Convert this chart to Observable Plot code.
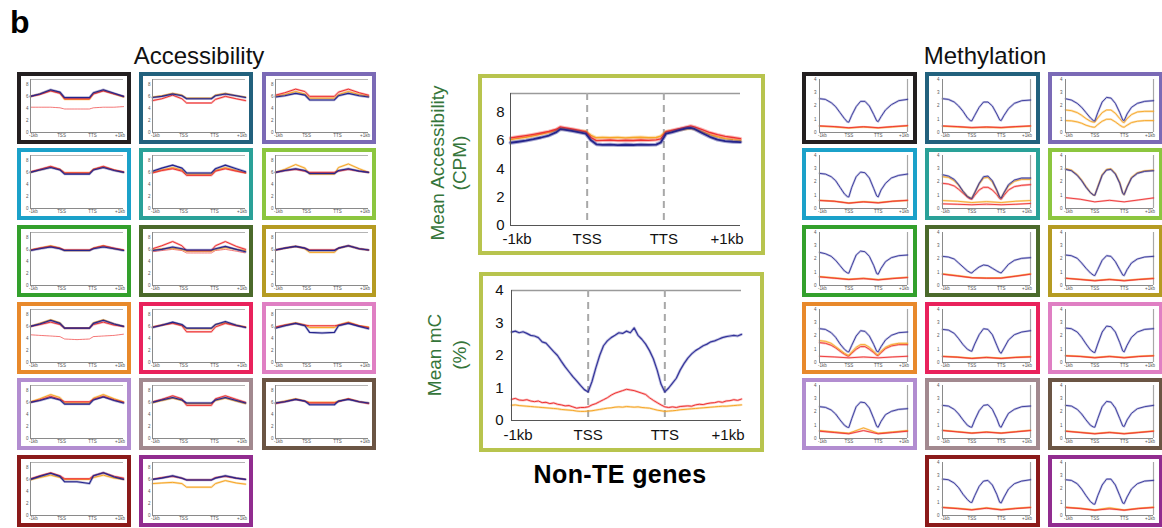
<!DOCTYPE html>
<html><head><meta charset="utf-8">
<script src="https://cdn.jsdelivr.net/npm/d3@7"></script>
<script src="https://cdn.jsdelivr.net/npm/@observablehq/plot@0.6"></script>
<style>
body{margin:0;background:#fff;font-family:"Liberation Sans",Arial,sans-serif;}
#root{position:relative;width:1162px;height:528px;overflow:hidden;background:#fff;}
</style></head>
<body><div id="root"></div>
<script>
// ---------------- DATA ----------------
const xTickLabels = ["-1kb","TSS","TTS","+1kb"];
const panelColors = ["#231f20","#22617d","#7b6ab6","#1ba1c9","#2aa198","#8cc63f","#33a02c","#4b6a2b","#b59b22","#e8892b","#e9225c","#df7fc3","#b28dd0","#a2898f","#6b5544","#8b1a1a","#912c8f"];

// middle: accessibility, non-TE genes
const accBigX = [0,0.1,0.2,0.3,0.4,0.5,0.6,0.65,0.7,0.8,0.9,0.98,1.05,1.12,1.2,1.3,1.4,1.5,1.6,1.7,1.8,1.9,1.96,2.03,2.1,2.2,2.3,2.35,2.4,2.5,2.6,2.7,2.8,2.9,3.0];
const accBigRed = [6.17,6.25,6.33,6.42,6.52,6.63,6.78,6.95,6.9,6.8,6.7,6.6,6.2,5.98,6.0,6.02,5.98,6.01,5.99,6.02,6.0,6.03,6.1,6.6,6.7,6.82,6.95,7.02,6.95,6.75,6.55,6.4,6.28,6.2,6.12];
const accBigOrange = [6.05,6.14,6.22,6.32,6.44,6.56,6.72,6.83,6.82,6.74,6.66,6.64,6.35,6.18,6.2,6.19,6.21,6.17,6.2,6.22,6.18,6.2,6.3,6.62,6.66,6.74,6.82,6.85,6.8,6.6,6.4,6.25,6.12,6.05,6.0];
const accBigBlue = [5.83,5.9,5.98,6.08,6.2,6.34,6.58,6.79,6.76,6.66,6.56,6.48,6.0,5.72,5.68,5.7,5.66,5.69,5.67,5.7,5.68,5.7,5.85,6.48,6.56,6.72,6.86,6.88,6.8,6.52,6.25,6.05,5.95,5.9,5.88];

// middle: methylation, non-TE genes
const methBigX = [0,0.05,0.1,0.15,0.2,0.25,0.3,0.35,0.4,0.45,0.5,0.55,0.6,0.65,0.7,0.75,0.8,0.85,0.9,0.95,1.0,1.05,1.1,1.15,1.2,1.25,1.3,1.35,1.4,1.45,1.5,1.55,1.6,1.65,1.7,1.75,1.8,1.85,1.9,1.95,2.0,2.05,2.1,2.15,2.2,2.25,2.3,2.35,2.4,2.45,2.5,2.55,2.6,2.65,2.7,2.75,2.8,2.85,2.9,2.95,3.0];
const methBigBlue = [2.72,2.75,2.70,2.73,2.68,2.62,2.60,2.55,2.42,2.38,2.25,2.12,2.00,1.82,1.65,1.50,1.35,1.22,1.08,0.95,0.88,1.20,1.62,2.00,2.30,2.45,2.55,2.62,2.70,2.68,2.75,2.70,2.85,2.62,2.50,2.35,2.15,1.90,1.55,1.12,0.88,1.00,1.15,1.30,1.55,1.75,1.92,2.05,2.15,2.22,2.30,2.35,2.42,2.45,2.50,2.55,2.58,2.60,2.62,2.60,2.65];
const methBigRed = [0.65,0.68,0.63,0.62,0.64,0.60,0.58,0.60,0.55,0.56,0.52,0.54,0.50,0.48,0.45,0.46,0.42,0.38,0.40,0.40,0.42,0.48,0.52,0.58,0.64,0.70,0.78,0.84,0.88,0.92,0.96,0.94,0.92,0.88,0.84,0.80,0.70,0.62,0.55,0.48,0.42,0.40,0.42,0.40,0.43,0.44,0.45,0.44,0.48,0.50,0.49,0.52,0.54,0.55,0.58,0.56,0.60,0.61,0.64,0.62,0.66];
const methBigOrange = [0.47,0.48,0.46,0.45,0.44,0.43,0.42,0.41,0.40,0.39,0.38,0.37,0.36,0.34,0.33,0.32,0.31,0.29,0.28,0.28,0.29,0.30,0.32,0.34,0.36,0.38,0.39,0.41,0.42,0.41,0.43,0.42,0.41,0.42,0.40,0.39,0.38,0.35,0.32,0.30,0.28,0.29,0.30,0.31,0.33,0.34,0.35,0.36,0.37,0.38,0.39,0.40,0.41,0.42,0.43,0.44,0.44,0.45,0.46,0.47,0.48];

// small accessibility panels
const accX = [0,0.3,0.65,0.95,1.1,1.5,1.9,2.03,2.35,2.7,3];
const accBlue = [
 [6.0,6.4,7.1,6.7,5.8,5.8,5.8,6.6,7.1,6.5,6.0],
 [5.8,6.0,6.4,6.1,5.6,5.6,5.6,6.1,6.4,6.1,5.8],
 [5.9,6.1,6.5,6.2,5.4,5.4,5.4,6.1,6.5,6.1,5.9],
 [6.0,6.4,6.8,6.4,5.7,5.7,5.7,6.4,6.8,6.3,6.0],
 [6.2,6.7,7.2,6.7,5.9,5.9,5.9,6.6,7.2,6.6,6.1],
 [6.0,6.3,6.6,6.3,5.8,5.8,5.8,6.3,6.6,6.2,6.0],
 [5.8,6.1,6.4,6.1,5.8,5.8,5.8,6.1,6.4,6.1,5.8],
 [5.8,6.0,6.4,6.1,5.9,5.9,5.9,6.1,6.5,6.0,5.6],
 [5.9,6.2,6.5,6.2,5.8,5.8,5.8,6.2,6.6,6.1,5.9],
 [6.0,6.4,7.0,6.5,5.7,5.7,5.7,6.5,7.0,6.4,6.0],
 [5.8,6.2,6.7,6.3,5.7,5.7,5.7,6.3,6.8,6.2,5.8],
 [5.7,6.1,6.5,6.1,5.0,4.9,5.0,6.1,6.5,6.0,5.6],
 [6.0,6.3,6.8,6.4,5.7,5.7,5.7,6.4,6.9,6.3,5.9],
 [6.0,6.4,6.8,6.4,5.9,5.9,5.9,6.4,6.8,6.3,5.9],
 [5.9,6.1,6.5,6.2,5.6,5.6,5.6,6.2,6.5,6.1,5.9],
 [6.0,6.5,7.0,6.5,5.6,5.6,5.3,6.6,7.1,6.4,6.0],
 [6.0,6.2,6.6,6.2,5.9,5.9,5.9,6.2,6.6,6.2,6.0]];
const accRed = [
 [6.0,6.3,6.9,6.5,5.6,5.6,5.6,6.4,6.9,6.4,6.0],
 [5.3,5.6,6.2,5.6,4.9,4.9,4.9,5.5,6.0,5.6,5.3],
 [6.2,6.6,7.2,6.8,6.0,6.0,6.0,6.7,7.2,6.6,6.2],
 [6.1,6.5,7.0,6.5,5.9,5.9,5.9,6.5,7.0,6.4,6.1],
 [5.9,6.3,6.6,6.2,5.5,5.5,5.5,6.2,6.6,6.2,5.9],
 [6.0,6.3,6.5,6.2,6.0,6.0,6.0,6.2,6.5,6.2,6.0],
 [5.9,6.2,6.5,6.2,5.9,5.9,5.9,6.2,6.6,6.2,5.9],
 [6.1,6.6,7.3,6.6,5.8,5.8,5.8,6.6,7.3,6.5,6.0],
 [5.9,6.2,6.5,6.2,5.9,5.9,5.9,6.2,6.6,6.1,5.9],
 [6.0,6.3,6.7,6.3,5.7,5.7,5.7,6.3,6.7,6.2,6.0],
 [5.9,6.2,6.5,6.1,5.1,5.1,5.1,5.9,6.5,6.1,5.9],
 [5.9,6.2,6.5,6.2,6.1,6.1,6.1,6.2,6.6,6.1,5.8],
 [6.0,6.4,7.0,6.5,6.1,6.1,6.1,6.5,7.0,6.4,6.0],
 [6.1,6.5,7.1,6.6,5.5,5.5,5.5,6.6,7.1,6.5,6.0],
 [5.8,6.1,6.5,6.2,5.9,5.9,5.9,6.1,6.6,6.1,5.8],
 [6.1,6.6,7.1,6.6,6.1,6.1,6.1,6.6,7.1,6.5,6.2],
 [6.0,6.3,6.5,6.2,5.9,5.9,5.9,6.3,6.5,6.2,6.0]];
const accOrange = [
 [6.0,6.4,7.0,6.6,5.5,5.5,5.5,6.5,7.0,6.4,5.9],
 [5.9,6.1,6.5,6.2,5.7,5.7,5.7,6.2,6.5,6.1,5.9],
 [6.0,6.3,6.8,6.4,5.7,5.7,5.7,6.3,6.8,6.3,6.0],
 [6.0,6.4,6.9,6.5,5.9,5.9,5.9,6.5,6.9,6.4,6.0],
 [6.0,6.4,6.8,6.4,5.7,5.7,5.7,6.3,6.8,6.3,5.9],
 [6.0,6.5,7.3,6.7,5.7,5.7,5.7,6.8,7.4,6.6,6.0],
 [5.9,6.2,6.6,6.2,5.8,5.8,5.8,6.2,6.6,6.1,5.9],
 [5.9,6.1,6.2,6.0,5.7,5.7,5.7,6.0,6.3,6.0,5.8],
 [5.9,6.2,6.5,6.1,5.5,5.5,5.5,6.2,6.6,6.1,5.9],
 [6.0,6.5,7.1,6.6,5.7,5.7,5.7,6.6,7.1,6.4,6.0],
 [5.9,6.2,6.6,6.2,5.6,5.6,5.6,6.3,6.6,6.2,5.9],
 [5.8,6.2,6.6,6.2,5.8,5.8,5.8,6.2,6.7,6.1,5.9],
 [6.1,6.6,7.3,6.8,5.9,5.9,5.9,6.7,7.3,6.6,6.1],
 [5.9,6.3,6.7,6.3,5.8,5.8,5.8,6.3,6.7,6.2,5.8],
 [5.9,6.2,6.6,6.2,6.0,6.0,6.0,6.2,6.6,6.1,5.9],
 [5.9,6.3,6.7,6.3,6.0,6.0,6.0,6.3,6.7,6.2,6.0],
 [5.3,5.4,5.5,5.3,4.7,4.7,4.7,5.3,5.8,5.4,5.2]];
const accExtra = [
 [4.2,4.2,4.2,4.1,3.9,3.9,3.9,4.1,4.2,4.2,4.3], null, null, null, null, null, null,
 [5.6,5.8,6.0,5.8,5.4,5.4,5.4,5.8,6.0,5.7,5.4], null,
 [4.6,4.5,4.4,4.3,3.9,3.8,3.9,4.3,4.4,4.5,4.7], null, null, null, null, null, null, null];

// small methylation panels
const methX = [0,0.2,0.4,0.55,0.7,0.85,0.95,1.0,1.1,1.25,1.4,1.55,1.7,1.85,1.95,2.0,2.1,2.25,2.45,2.7,3.0];
const methLowX = [0,0.5,1.0,1.5,2.0,2.5,3.0];
const methBlue = [
 [2.55,2.5,2.25,1.95,1.5,1.05,0.8,0.78,1.3,1.95,2.35,2.35,2.0,1.35,0.88,0.82,1.2,1.7,2.1,2.4,2.5],
 [2.55,2.5,2.3,2.0,1.6,1.1,0.9,0.88,1.3,1.9,2.3,2.3,2.0,1.4,0.95,0.9,1.3,1.8,2.2,2.4,2.45],
 [2.55,2.45,2.2,1.9,1.5,1.1,0.9,0.88,1.5,2.3,2.65,2.6,2.2,1.5,0.95,0.9,1.4,1.9,2.2,2.35,2.4],
 [2.65,2.6,2.4,2.1,1.6,1.1,0.9,0.87,1.6,2.4,2.75,2.7,2.3,1.5,0.95,0.87,1.4,1.9,2.3,2.5,2.6],
 [2.55,2.45,2.2,1.8,1.3,0.9,0.78,0.75,1.2,1.9,2.4,2.45,2.1,1.4,0.85,0.78,1.2,1.8,2.15,2.3,2.3],
 [2.95,2.85,2.5,2.1,1.6,1.2,1.02,1.0,1.6,2.5,2.9,2.95,2.6,1.9,1.15,1.05,1.6,2.3,2.65,2.8,2.85],
 [2.5,2.4,2.2,1.9,1.5,1.1,0.95,0.93,1.5,2.3,2.6,2.55,2.2,1.5,0.9,0.85,1.3,1.8,2.1,2.25,2.3],
 [2.2,2.15,2.0,1.7,1.4,1.1,0.97,0.95,1.15,1.4,1.55,1.5,1.3,1.1,0.98,0.95,1.2,1.6,1.9,2.05,2.1],
 [2.3,2.25,2.05,1.7,1.3,0.95,0.78,0.75,1.2,1.9,2.25,2.2,1.8,1.2,0.8,0.75,1.2,1.7,2.0,2.15,2.2],
 [2.55,2.5,2.25,1.9,1.4,1.0,0.82,0.8,1.3,2.0,2.4,2.35,2.0,1.35,0.85,0.8,1.2,1.7,2.05,2.25,2.3],
 [2.5,2.45,2.2,1.8,1.35,1.0,0.88,0.85,1.4,2.1,2.55,2.5,2.1,1.3,0.78,0.7,1.1,1.7,2.1,2.3,2.4],
 [2.6,2.55,2.3,1.9,1.4,0.95,0.78,0.75,1.4,2.3,2.75,2.7,2.3,1.5,0.88,0.8,1.3,1.9,2.3,2.5,2.55],
 [2.4,2.35,2.15,1.85,1.4,1.0,0.85,0.83,1.5,2.4,2.75,2.7,2.3,1.5,0.92,0.85,1.3,1.8,2.05,2.2,2.25],
 [2.5,2.45,2.2,1.85,1.4,1.0,0.87,0.85,1.4,2.1,2.5,2.55,2.2,1.5,0.92,0.85,1.3,1.9,2.2,2.4,2.45],
 [2.5,2.45,2.2,1.85,1.4,1.0,0.87,0.85,1.5,2.4,2.8,2.75,2.3,1.5,0.95,0.9,1.4,1.9,2.25,2.4,2.5],
 [2.75,2.7,2.45,2.1,1.6,1.2,1.0,0.98,1.5,2.2,2.6,2.65,2.3,1.6,1.0,0.95,1.4,2.0,2.4,2.6,2.7],
 [2.7,2.65,2.4,2.0,1.5,1.05,0.87,0.85,1.5,2.3,2.75,2.75,2.3,1.5,0.95,0.9,1.4,2.0,2.4,2.6,2.65]];
const methRedLow = [
 [0.5,0.45,0.36,0.44,0.36,0.45,0.52],
 [0.5,0.45,0.38,0.42,0.38,0.45,0.5],
 null,
 [0.6,0.55,0.4,0.5,0.42,0.55,0.62],
 [0.35,0.32,0.28,0.33,0.28,0.32,0.38],
 [0.82,0.7,0.5,0.62,0.5,0.65,0.8],
 [0.65,0.55,0.45,0.52,0.42,0.52,0.6],
 [0.85,0.72,0.58,0.55,0.55,0.7,0.85],
 [0.55,0.45,0.35,0.45,0.35,0.45,0.52],
 [0.47,0.42,0.35,0.42,0.35,0.42,0.47],
 [0.45,0.4,0.3,0.38,0.3,0.38,0.42],
 [0.5,0.45,0.35,0.45,0.35,0.45,0.5],
 [0.55,0.45,0.35,0.6,0.35,0.45,0.55],
 [0.6,0.5,0.4,0.48,0.4,0.5,0.6],
 [0.55,0.45,0.35,0.45,0.35,0.45,0.55],
 [0.6,0.52,0.42,0.55,0.42,0.52,0.6],
 [0.6,0.52,0.4,0.5,0.4,0.52,0.6]];
const methOrangeLow = [
 [0.48,0.42,0.33,0.42,0.34,0.42,0.5],
 [0.47,0.42,0.35,0.4,0.35,0.42,0.48],
 null,
 [0.62,0.55,0.42,0.52,0.45,0.55,0.6],
 [0.6,0.55,0.45,0.52,0.45,0.55,0.6],
 null,
 [0.68,0.58,0.48,0.55,0.45,0.55,0.62],
 [0.88,0.75,0.6,0.57,0.58,0.72,0.88],
 [0.55,0.47,0.38,0.47,0.38,0.47,0.55],
 null,
 [0.47,0.42,0.33,0.4,0.33,0.4,0.45],
 [0.52,0.47,0.38,0.47,0.38,0.47,0.52],
 [0.6,0.5,0.4,0.8,0.4,0.5,0.6],
 [0.62,0.52,0.42,0.5,0.42,0.52,0.62],
 [0.57,0.47,0.37,0.47,0.37,0.47,0.57],
 [0.62,0.55,0.45,0.58,0.45,0.55,0.62],
 [0.63,0.55,0.42,0.58,0.42,0.55,0.63]];
const methExtraA = [null,null,
 [1.7,1.65,1.5,1.3,1.05,0.85,0.78,0.78,1.1,1.5,1.7,1.7,1.45,1.05,0.78,0.75,1.05,1.35,1.55,1.6,1.6],
 null,
 [2.4,2.35,2.1,1.75,1.3,0.92,0.8,0.78,1.2,1.85,2.3,2.35,2.0,1.35,0.85,0.8,1.2,1.7,2.05,2.2,2.2],
 [3.0,2.9,2.55,2.15,1.65,1.2,1.02,1.0,1.65,2.55,2.95,3.0,2.65,1.95,1.15,1.05,1.65,2.35,2.7,2.85,2.9],
 null,null,null,
 [1.65,1.6,1.45,1.2,0.95,0.7,0.58,0.55,0.8,1.15,1.35,1.35,1.15,0.85,0.62,0.6,0.85,1.15,1.35,1.45,1.45],
 null,null,null,null,null,null,null];
const methExtraAColor = [null,null,"orange",null,"orange","orange",null,null,null,"orange",null,null,null,null,null,null,null];
const methExtraB = [null,null,
 [0.9,0.88,0.8,0.7,0.55,0.45,0.4,0.4,0.6,0.85,1.0,1.0,0.8,0.55,0.42,0.4,0.55,0.75,0.85,0.9,0.9],
 null,
 [1.9,1.85,1.7,1.45,1.15,0.85,0.72,0.7,1.0,1.4,1.6,1.6,1.4,1.05,0.75,0.7,1.0,1.4,1.65,1.75,1.8],
 null,null,null,null,
 [1.5,1.45,1.3,1.1,0.85,0.62,0.5,0.48,0.7,1.0,1.2,1.2,1.0,0.75,0.55,0.52,0.75,1.05,1.25,1.35,1.35],
 null,null,null,null,null,null,null];
const methExtraBColor = [null,null,"orange",null,"red",null,null,null,null,"red",null,null,null,null,null,null,null];

// ---------------- RENDER ----------------
const C = {blue:"#25258c", red:"#ee3333", orange:"#f6a626", methBlue:"#34349a"};
const FONT = "Liberation Sans, Arial, sans-serif";
const root = document.getElementById("root");
function addDiv(css, text){const d=document.createElement("div");d.style.cssText=css;if(text!=null)d.textContent=text;root.appendChild(d);return d;}
function place(node,l,t){node.style.position="absolute";node.style.left=l+"px";node.style.top=t+"px";root.appendChild(node);}
function frame(l,t,w,h,color){addDiv(`position:absolute;left:${l}px;top:${t}px;width:${w}px;height:${h}px;box-sizing:border-box;border:4px solid ${color};background:#fff;`);}
function series(xs,ys){return xs.map((x,i)=>({x,y:ys[i]}));}
function halo(xs,ys,color,w,hw,ho){const d=series(xs,ys);return [Plot.line(d,{x:"x",y:"y",stroke:color,strokeWidth:hw,strokeOpacity:ho}),Plot.line(d,{x:"x",y:"y",stroke:color,strokeWidth:w})];}
function xAxes(pad,dxS,dxE){
  const o={tickSize:0,tickPadding:pad,label:null,tickFormat:d=>xTickLabels[d]};
  return [Plot.axisX([0],{...o,textAnchor:"start",dx:dxS}),Plot.axisX([1,2],o),Plot.axisX([3],{...o,textAnchor:"end",dx:dxE})];
}

// titles
addDiv(`position:absolute;left:10px;top:6px;font:bold 32px ${FONT};line-height:1;color:#000`,"b");
addDiv(`position:absolute;left:199px;top:44px;transform:translateX(-50%);font:24px ${FONT};line-height:1;color:#111;white-space:nowrap`,"Accessibility");
addDiv(`position:absolute;left:985px;top:44px;transform:translateX(-50%);font:24px ${FONT};line-height:1;color:#111;white-space:nowrap`,"Methylation");
addDiv(`position:absolute;left:620px;top:462px;transform:translateX(-50%);font:bold 25px ${FONT};line-height:1;color:#000;white-space:nowrap;letter-spacing:0.4px`,"Non-TE genes");
const rot = (x,y,t)=>addDiv(`position:absolute;left:${x}px;top:${y}px;transform:translate(-50%,-50%) rotate(-90deg);font:19px ${FONT};line-height:1;color:#35753a;white-space:nowrap`,t);
rot(437,163,"Mean Accessibility"); rot(459,163,"(CPM)");
rot(434,355,"Mean mC"); rot(459,355,"(%)");

const rowTops=[72,148,225,302,378,455];
const accCols=[17,139,262];
const methCols=[802,925,1048];
const methSlots=[[0,0],[0,1],[0,2],[1,0],[1,1],[1,2],[2,0],[2,1],[2,2],[3,0],[3,1],[3,2],[4,0],[4,1],[4,2],[5,1],[5,2]];

// accessibility small panels
accBlue.forEach((_,i)=>{
  const left=accCols[i%3], top=rowTops[Math.floor(i/3)];
  frame(left,top,114,72,panelColors[i]);
  const marks=[
    Plot.ruleY([8.8],{stroke:"#b4b4b4",strokeWidth:1.2}),
    Plot.axisY([0,2,4,6,8],{tickSize:0,tickPadding:2,label:null}),
    ...xAxes(1.5,-1.5,1.5)
  ];
  if(accExtra[i]) marks.push(Plot.line(series(accX,accExtra[i]),{x:"x",y:"y",stroke:C.red,strokeWidth:0.9,strokeOpacity:0.75,strokeDasharray:"2,0.8"}));
  marks.push(...halo(accX,accOrange[i],C.orange,1,2.2,0.35));
  marks.push(...halo(accX,accRed[i],C.red,1,2.2,0.35));
  marks.push(...halo(accX,accBlue[i],C.blue,1.1,2.4,0.35));
  marks.push(Plot.ruleX([0],{stroke:"#8a8a8a"}),Plot.ruleY([0],{stroke:"#8a8a8a"}));
  const svg=Plot.plot({width:106,height:64,marginLeft:9,marginRight:4,marginTop:3,marginBottom:8,
    x:{domain:[0,3],axis:null,label:null},y:{domain:[0,8.8],axis:null,label:null},
    style:{background:"transparent",fontSize:"4.5px",fontFamily:FONT,color:"#555",overflow:"visible"},marks});
  place(svg,left+4,top+4);
});

// methylation small panels
methBlue.forEach((_,i)=>{
  const [r,c]=methSlots[i]; const left=methCols[c], top=rowTops[r];
  frame(left,top,115,72,panelColors[i]);
  const marks=[
    Plot.ruleX([3],{stroke:"#a8a8a8",strokeWidth:1.2}),
    Plot.axisY([0,1,2,3,4],{tickSize:0,tickPadding:3,label:null}),
    ...xAxes(1.5,-1.5,1.5)
  ];
  if(methOrangeLow[i]) marks.push(...halo(methLowX,methOrangeLow[i],C.orange,0.9,2,0.35));
  if(methRedLow[i]) marks.push(...halo(methLowX,methRedLow[i],C.red,0.9,2,0.3));
  if(methExtraB[i]) marks.push(...halo(methX,methExtraB[i],C[methExtraBColor[i]],0.9,2.2,0.35));
  if(methExtraA[i]) marks.push(...halo(methX,methExtraA[i],C[methExtraAColor[i]],0.9,2.2,0.35));
  marks.push(...halo(methX,methBlue[i],C.methBlue,0.9,2.2,0.3));
  marks.push(Plot.ruleX([0],{stroke:"#8a8a8a"}),Plot.ruleY([0],{stroke:"#8a8a8a"}));
  const svg=Plot.plot({width:107,height:64,marginLeft:13,marginRight:6,marginTop:3,marginBottom:8,
    x:{domain:[0,3],axis:null,label:null},y:{domain:[0,4],axis:null,label:null},
    style:{background:"transparent",fontSize:"4.5px",fontFamily:FONT,color:"#555",overflow:"visible"},marks});
  place(svg,left+4,top+4);
});

// middle panels
const midFrame="#b8c44e";
frame(478,74,287,181,midFrame);
frame(479,272,285,180,midFrame);
{
  const marks=[
    Plot.ruleY([9.3],{stroke:"#9a9a9a",strokeWidth:1.5}),
    Plot.ruleX([1,2],{stroke:"#a8a8a8",strokeWidth:2,strokeDasharray:"7,5"}),
    Plot.axisY([0,2,4,6,8],{tickSize:0,tickPadding:6,label:null}),
    ...xAxes(8,-8,3),
    ...halo(accBigX,accBigOrange,C.orange,1.4,3.4,0.35),
    ...halo(accBigX,accBigRed,C.red,1.4,3.4,0.35),
    ...halo(accBigX,accBigBlue,C.blue,1.8,3.8,0.4),
    Plot.ruleX([0],{stroke:"#555"}),Plot.ruleY([0],{stroke:"#555"})
  ];
  const svg=Plot.plot({width:279,height:173,marginLeft:28,marginRight:21,marginTop:15,marginBottom:26,
    x:{domain:[0,3],axis:null,label:null},y:{domain:[0,9.3],axis:null,label:null},
    style:{background:"transparent",fontSize:"15px",fontFamily:FONT,color:"#111",overflow:"visible"},marks});
  place(svg,482,78);
}
{
  const marks=[
    Plot.ruleY([4],{stroke:"#9a9a9a",strokeWidth:1.5}),
    Plot.ruleX([1,2],{stroke:"#a8a8a8",strokeWidth:2,strokeDasharray:"7,5"}),
    Plot.axisY([0,1,2,3,4],{tickSize:0,tickPadding:8,label:null}),
    ...xAxes(9,-8,3),
    ...halo(methBigX,methBigOrange,C.orange,1,2.4,0.3),
    ...halo(methBigX,methBigRed,C.red,1,2.4,0.3),
    ...halo(methBigX,methBigBlue,C.methBlue,1.2,2.8,0.3),
    Plot.ruleX([0],{stroke:"#555"}),Plot.ruleY([0],{stroke:"#555"})
  ];
  const svg=Plot.plot({width:276,height:172,marginLeft:28,marginRight:18,marginTop:14,marginBottom:28,
    x:{domain:[0,3],axis:null,label:null},y:{domain:[0,4],axis:null,label:null},
    style:{background:"transparent",fontSize:"15px",fontFamily:FONT,color:"#111",overflow:"visible"},marks});
  place(svg,483,276);
}
</script>
</body></html>
